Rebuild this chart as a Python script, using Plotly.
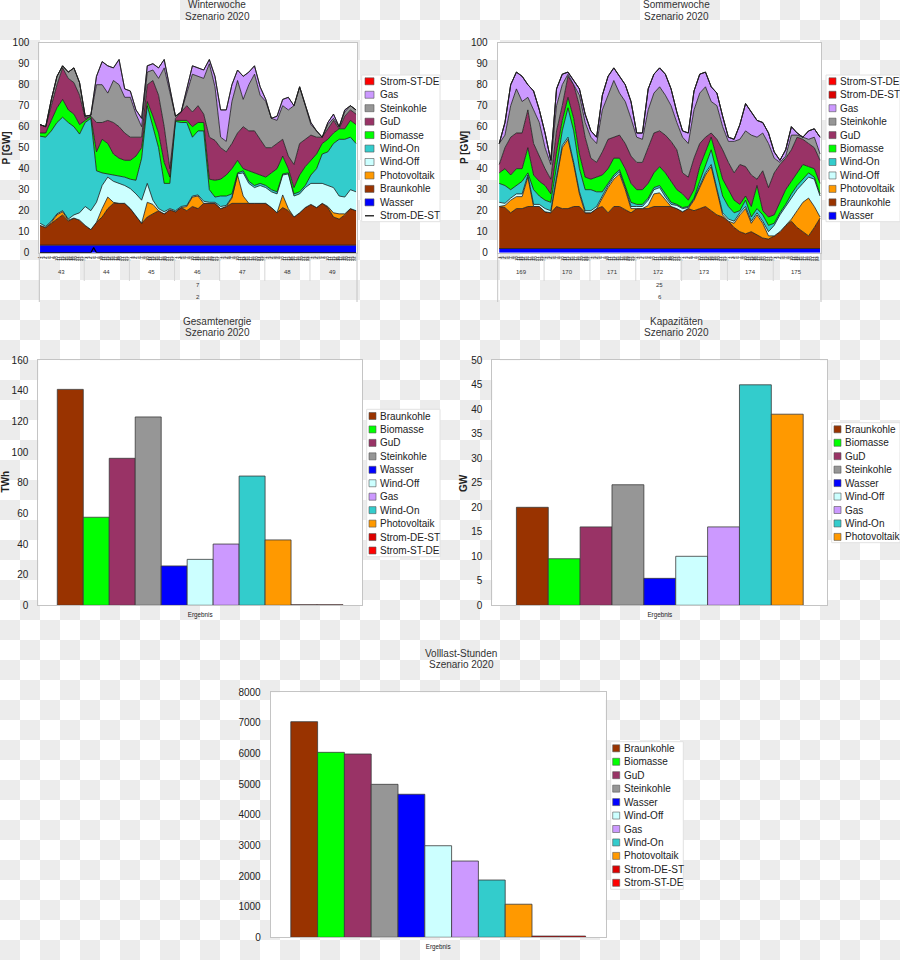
import base64, struct, zlib
import numpy as np
import plotly.graph_objects as go

W, H = 900, 960
FONT = "Liberation Sans, Arial, Helvetica, sans-serif"
TXT = "#222222"

# ---------------- data ----------------
hours = list(range(0, 169, 3))                # sampled hour of the week
hour_ticks = list(range(168))
hour_labels = [str(h % 24 + 1) for h in hour_ticks]

winter_days = ["43", "44", "45", "46", "47", "48", "49"]
winter_levels = ["7", "2"]
summer_days = ["169", "170", "171", "172", "173", "174", "175"]
summer_levels = ["25", "6"]

# Winter week: upper edge of each stacked layer (GW)
w_wasser = [3.6, 3.6, 3.6, 3.6, 3.6, 3.6, 3.6, 3.6, 3.6, 3.6, 3.6, 3.6, 3.6, 3.6, 3.6, 3.6, 3.6, 3.6, 3.6, 3.6,
            3.6, 3.6, 3.6, 3.6, 3.6, 3.6, 3.6, 3.6, 3.6, 3.6, 3.6, 3.6, 3.6, 3.6, 3.6, 3.6, 3.6, 3.6, 3.6, 3.6,
            3.6, 3.6, 3.6, 3.6, 3.6, 3.6, 3.6, 3.6, 3.6, 3.6, 3.6, 3.6, 3.6, 3.6, 3.6, 3.6, 3.6]
w_braunkohle = [13, 12, 14, 16, 18, 15, 16.5, 15.5, 13, 11, 14.5, 17, 21, 23.5, 23.5, 23.5, 21, 17.5, 14, 17,
                18.5, 20, 18.5, 20.5, 19.5, 21.5, 20, 22, 21, 23.5, 23.5, 23.5, 21, 22, 23.5, 23.5, 23.5, 23.5, 23.5, 23.5,
                23.5, 21.5, 19, 21.5, 20, 17, 19, 21.5, 23, 21.5, 23.5, 21.5, 17, 16, 18, 21, 20]
w_photovoltaik = [13, 12, 14.5, 18, 19.5, 15.5, 16.5, 15.5, 13, 11, 14.5, 21, 26.5, 24, 23.5, 23.5, 21, 17.5, 14, 24,
                  23, 20, 18.5, 20.5, 19.5, 21.5, 22, 26.5, 27, 23.5, 23.5, 23.5, 21, 22, 26, 37, 27, 23.5, 23.5, 23.5,
                  23.5, 21.5, 19, 27.5, 21, 17, 19, 21.5, 23, 21.5, 23.5, 22, 19, 18.5, 18.5, 21, 20]
w_wind_off = [14, 12.5, 15, 18.5, 20, 16, 18, 19, 22, 20, 24, 32, 36, 34, 33, 32, 30.5, 28, 25, 33,
              25, 21, 19.5, 21, 20, 22, 22.5, 27, 27.5, 24.5, 24, 24, 22, 22.5, 26.5, 37.5, 38, 33, 31, 32,
              31, 29, 28, 37, 37.5, 27, 28, 31, 33, 33, 33, 32, 31, 27, 26.5, 30, 29]
w_wind_on = [55.5, 55, 58, 62, 64.5, 62, 60, 56.5, 62, 64, 39, 38, 37.5, 37, 36.5, 36, 35, 34.5, 45, 70,
             60, 50, 33, 33, 62.5, 62, 62, 55, 58, 58, 30, 26.5, 27, 27, 28, 38, 39, 34, 32, 33,
             32, 30, 29, 37.5, 38, 28, 29, 32, 37, 40, 47, 48, 52, 54, 54, 55, 52]
w_biomasse = [57, 57, 63, 69, 73, 68, 66, 61, 63, 65, 48, 54, 52, 47, 45, 44, 44, 46, 50, 72,
              65, 57, 43, 36, 63, 63, 63, 60, 62, 62, 35, 34.5, 35, 37, 40, 44, 40, 39, 38, 37,
              36, 38, 40, 46, 40, 31, 37, 41, 44, 47, 52, 54, 57, 59, 59, 63, 61]
w_gud = [61, 60, 70, 80, 88, 83, 81, 75, 64, 65, 62, 62, 63, 62, 60, 57, 55, 55, 55, 80,
         82, 75, 60, 40, 64, 67, 70, 67, 70, 66, 55, 53.5, 50, 48, 52, 57, 60, 58, 58, 54,
         50, 50, 52, 54, 46, 42, 52, 54, 56, 55, 55, 59, 63, 59, 65, 68, 66]
w_steinkohle = [61, 60, 73, 84, 89, 86, 88, 81, 65, 65.5, 80, 80, 76, 82, 80, 74, 74, 66, 60, 86,
                87, 83, 88, 76, 65, 67, 76, 85, 84, 83, 90, 79, 55, 53, 72, 82, 73, 80, 85, 75,
                72, 64, 63, 70, 68, 70, 79, 70, 61, 58, 55, 61, 64, 60, 67, 70, 68]
w_gas = [61, 60, 73, 84, 89, 86, 88, 81, 65, 65.5, 84, 91, 89, 88, 92, 78, 77, 68, 64, 89,
         90, 88, 92, 78, 65, 67, 78, 89, 88, 87, 92, 84, 68, 68, 80, 87, 84, 86, 89, 79,
         73, 64, 65, 73, 74, 70, 79, 71, 62, 58, 55, 62, 66, 60, 68, 70, 68]
w_strom_st_de = [0] * 57
w_strom_de_st_hours = [0, 27, 28.5, 30, 168]
w_strom_de_st = [0, 0, 2.4, 0, 0]

# Summer week: upper edge of each stacked layer (GW)
s_wasser = [2.0, 2.0, 2.0, 2.0, 2.0, 2.0, 2.0, 2.0, 2.0, 2.0, 2.0, 2.0, 2.0, 2.0, 2.0, 2.0, 2.0, 2.0, 2.0, 2.0,
            2.0, 2.0, 2.0, 2.0, 2.0, 2.0, 2.0, 2.0, 2.0, 2.0, 2.0, 2.0, 2.0, 2.0, 2.0, 2.0, 2.0, 2.0, 2.0, 2.0,
            2.0, 2.0, 2.0, 2.0, 2.0, 2.0, 2.0, 2.0, 2.0, 2.0, 2.0, 2.0, 2.0, 2.0, 2.0, 2.0, 2.0]
s_braunkohle = [22, 21.5, 19, 21, 21, 22, 22, 22, 19.5, 19, 22, 21, 21, 22, 22, 19, 19, 21, 22, 19,
                22, 22, 20.5, 19, 21, 21, 21, 22, 22, 22, 22, 21, 19.5, 21, 20, 21, 22, 20, 18, 17,
                15, 12, 10, 9, 10, 8.5, 7, 6.5, 8, 10, 13, 15, 12, 10, 8, 12, 16.5]
s_photovoltaik = [22, 22.5, 25, 26.7, 26.7, 36, 22, 22, 19.5, 19, 35, 50, 54, 42, 28, 19, 19, 21, 26, 31,
                  35, 37.5, 30, 21, 21, 21, 22.5, 28, 28.5, 25, 22, 21, 19.5, 21, 25, 31, 37, 41, 30, 18,
                  15, 14, 18, 21, 14, 18, 14, 8, 8, 10, 13, 16, 20, 24, 26, 22, 17]
s_wind_off = [24, 23.5, 26, 28, 28, 37, 23, 23, 21, 20, 36, 51, 55, 43, 29, 20, 20, 22, 27, 32,
              36, 38.5, 31, 22, 22, 22, 25, 30, 31, 26.5, 23, 22.5, 21, 21.5, 25.5, 32, 38, 42, 31, 19,
              16, 15, 19, 22, 15, 19, 15, 10, 13, 18, 22, 26, 30, 33, 36, 35, 27]
s_wind_on = [33, 32, 30, 32, 34, 38, 30, 27, 25, 24, 42, 58, 69, 58, 40, 30, 30, 29, 29, 33,
             37, 39.5, 32, 24, 23, 23, 26, 31, 32, 28, 24, 23, 21.5, 22, 26, 34, 42, 49, 38, 27,
             22, 19, 20, 25, 17, 21, 18, 13, 14, 19, 23, 28, 32, 35, 38, 36, 28]
s_biomasse = [38, 40, 37, 40, 40, 50, 37, 34, 32, 28, 48, 63, 74, 64, 47, 36, 35, 36, 37, 40,
              45, 45, 40, 33, 30, 30, 33, 38, 41, 38, 34, 30, 28, 25, 30, 41, 48, 55, 45, 35,
              30, 25, 23, 27, 22, 32, 20, 17, 18, 24, 30, 34, 38, 42, 41, 40, 33]
s_gud = [42, 50, 55, 57, 57, 68, 52, 46, 40, 35, 58, 70, 84, 80, 70, 55, 45, 43, 48, 54,
         55, 56, 52, 46, 43, 43, 50, 57, 58, 56, 53, 49, 38, 36, 45, 52, 55, 57, 54, 49,
         43, 38, 42, 41, 37, 35, 39, 31, 38, 42, 45, 49, 55, 54, 52, 50, 44]
s_steinkohle = [52, 56, 70, 78, 72, 74, 68, 62, 50, 42, 70, 80, 85, 80, 75, 62, 55, 52, 68, 75,
                82, 76, 72, 64, 55, 54, 68, 76, 79, 75, 70, 62, 55, 52, 68, 76, 79, 72, 70, 60,
                53, 53, 54, 58, 56, 55, 57, 52, 45, 43, 46, 56, 56, 55, 54, 55, 47]
s_gas = [52, 62, 80, 86, 84, 80, 77, 68, 57, 44, 78, 85, 86, 82, 78, 66, 58, 55, 75, 84,
         88, 84, 80, 72, 57, 57, 78, 85, 88, 85, 78, 67, 58, 57, 77, 85, 86, 79, 76, 65,
         55, 54, 61, 71, 67, 63, 62, 57, 48, 44, 49, 60, 57, 55, 58, 59, 55]
s_strom_de_st = [0] * 57
s_strom_st_de = [0] * 57

# Bar charts
bar_category = ["Ergebnis"]
bar_names = ["Braunkohle", "Biomasse", "GuD", "Steinkohle", "Wasser", "Wind-Off", "Gas",
             "Wind-On", "Photovoltaik", "Strom-DE-ST", "Strom-ST-DE"]
energy_twh = [141, 57.5, 96, 123, 25.7, 30, 40, 84.4, 42.7, 0.4, 0.4]
kap_names = ["Braunkohle", "Biomasse", "GuD", "Steinkohle", "Wasser", "Wind-Off", "Gas",
             "Wind-On", "Photovoltaik"]
kap_gw = [20, 9.5, 16, 24.6, 5.5, 10, 16, 45, 39]
volllast_h = [7040, 6040, 5985, 4995, 4670, 2990, 2490, 1870, 1080, 40, 40]

COL = {"Braunkohle": "#993300", "Biomasse": "#00ff00", "GuD": "#993366", "Steinkohle": "#969696",
       "Wasser": "#0000ff", "Wind-Off": "#ccffff", "Gas": "#cc99ff", "Wind-On": "#33cccc",
       "Photovoltaik": "#ff9900", "Strom-DE-ST": "#dd0000", "Strom-ST-DE": "#ff0000"}

stack_names = ["Wasser", "Braunkohle", "Photovoltaik", "Wind-Off", "Wind-On", "Biomasse", "GuD",
               "Steinkohle", "Gas"]

# ---------------- helpers ----------------
def px(x):
    return x / W


def py(y):
    return 1 - y / H


def dom_x(a, b):
    return [px(a), px(b)]


def dom_y(top, bottom):
    return [py(bottom), py(top)]


def checker_png(w, h, cell, c1, c2):
    row_a, row_b = bytearray(), bytearray()
    for x in range(w):
        even = (x // cell) % 2 == 0
        row_a += bytes(c1 if even else c2)
        row_b += bytes(c2 if even else c1)
    raw = bytearray()
    for y in range(h):
        raw += b"\x00" + (row_a if (y // cell) % 2 == 0 else row_b)

    def chunk(t, d):
        return struct.pack(">I", len(d)) + t + d + struct.pack(">I", zlib.crc32(t + d) & 0xffffffff)

    png = (b"\x89PNG\r\n\x1a\n" + chunk(b"IHDR", struct.pack(">IIBBBBB", w, h, 8, 2, 0, 0, 0))
           + chunk(b"IDAT", zlib.compress(bytes(raw), 9)) + chunk(b"IEND", b""))
    return "data:image/png;base64," + base64.b64encode(png).decode()


fig = go.Figure()
shapes, annotations = [], []


def add_stack(cums, names, xa, ya, group):
    prev = np.zeros(len(hours))
    for name, cum in zip(names, cums):
        cum = np.array(cum, dtype=float)
        val = np.clip(cum - prev, 0, None)
        prev = np.maximum(cum, prev)
        fig.add_trace(go.Scatter(x=hours, y=val, stackgroup=group, mode="lines",
                                 line=dict(color="#1a1a1a", width=0.8), fillcolor=COL[name],
                                 name=name, xaxis=xa, yaxis=ya, showlegend=False, hoverinfo="skip"))


add_stack([w_wasser, w_braunkohle, w_photovoltaik, w_wind_off, w_wind_on, w_biomasse, w_gud,
           w_steinkohle, w_gas], stack_names, "x", "y", "winter")
fig.add_trace(go.Scatter(x=hours, y=w_strom_st_de, stackgroup="winter", mode="lines",
                         line=dict(color="#1a1a1a", width=0.8), fillcolor=COL["Strom-ST-DE"],
                         name="Strom-ST-DE", xaxis="x", yaxis="y", showlegend=False, hoverinfo="skip"))
fig.add_trace(go.Scatter(x=w_strom_de_st_hours, y=w_strom_de_st, mode="lines",
                         line=dict(color="#000000", width=1.2), name="Strom-DE-ST",
                         xaxis="x", yaxis="y", showlegend=False, hoverinfo="skip"))

add_stack([s_wasser, s_braunkohle, s_photovoltaik, s_wind_off, s_wind_on, s_biomasse, s_gud,
           s_steinkohle, s_gas], stack_names, "x2", "y2", "summer")
for nm, vals in [("Strom-DE-ST", s_strom_de_st), ("Strom-ST-DE", s_strom_st_de)]:
    fig.add_trace(go.Scatter(x=hours, y=vals, stackgroup="summer", mode="lines",
                             line=dict(color="#1a1a1a", width=0.8), fillcolor=COL[nm],
                             name=nm, xaxis="x2", yaxis="y2", showlegend=False, hoverinfo="skip"))


def add_bars(names, vals, xa, ya):
    for nm, v in zip(names, vals):
        fig.add_trace(go.Bar(x=bar_category, y=[v], name=nm, marker=dict(color=COL[nm],
                             line=dict(color="#3a3a3a", width=0.8)), xaxis=xa, yaxis=ya,
                             showlegend=False, hoverinfo="skip"))


add_bars(bar_names, energy_twh, "x3", "y3")
add_bars(kap_names, kap_gw, "x4", "y4")
add_bars(bar_names, volllast_h, "x5", "y5")

# ---------------- axes ----------------
FRAME = "#c4c4c4"
yax_common = dict(showgrid=False, zeroline=False, showline=True, mirror=True, linecolor=FRAME,
                  linewidth=1, ticks="", tickfont=dict(size=10, color=TXT, family=FONT),
                  ticklabelstandoff=7, automargin=False, fixedrange=True)
week_x = dict(showgrid=False, zeroline=False, showline=True, mirror=True, linecolor=FRAME,
              linewidth=1, ticks="", tickmode="array", tickvals=hour_ticks, ticktext=hour_labels,
              tickangle=-90, tickfont=dict(size=4.2, color="#222222", family=FONT),
              ticklabelstandoff=1, automargin=False, fixedrange=True)
bar_x = dict(type="category", showgrid=False, zeroline=False, showline=True, mirror=True,
             linecolor=FRAME, linewidth=1, ticks="", tickfont=dict(size=6.3, color=TXT, family=FONT),
             ticklabelstandoff=3, automargin=False, fixedrange=True)

win_x, win_y = (39.3, 357), (42.7, 252.7)
sum_x, sum_y = (497.7, 821), (42.7, 252.7)
ges_x, ges_y = (38.3, 362), (360.3, 605.3)
kap_x, kap_y = (492.3, 827.3), (360.3, 605.3)
vol_x, vol_y = (270.7, 605.7), (692.3, 937.3)

fig.update_layout(
    xaxis=dict(week_x, domain=dom_x(*win_x), range=[-0.4, 168.5], anchor="y"),
    yaxis=dict(yax_common, domain=dom_y(*win_y), range=[0, 100], dtick=10, tick0=0, anchor="x"),
    xaxis2=dict(week_x, domain=dom_x(*sum_x), range=[-0.8, 168.5], anchor="y2"),
    yaxis2=dict(yax_common, domain=dom_y(*sum_y), range=[0, 100], dtick=10, tick0=0, anchor="x2"),
    xaxis3=dict(bar_x, domain=dom_x(*ges_x), range=[-0.4985, 0.4985], anchor="y3"),
    yaxis3=dict(yax_common, domain=dom_y(*ges_y), range=[0, 160], dtick=20, tick0=0, anchor="x3"),
    xaxis4=dict(bar_x, domain=dom_x(*kap_x), range=[-0.514, 0.514], anchor="y4"),
    yaxis4=dict(yax_common, domain=dom_y(*kap_y), range=[0, 50], dtick=5, tick0=0, anchor="x4"),
    xaxis5=dict(bar_x, domain=dom_x(*vol_x), range=[-0.5, 0.5], anchor="y5"),
    yaxis5=dict(yax_common, domain=dom_y(*vol_y), range=[0, 8000], dtick=1000, tick0=0, anchor="x5"),
)

# white plot areas above the checkerboard
for xs, ys in [(win_x, win_y), (sum_x, sum_y), (ges_x, ges_y), (kap_x, kap_y), (vol_x, vol_y)]:
    shapes.append(dict(type="rect", xref="paper", yref="paper", x0=px(xs[0]), x1=px(xs[1]),
                       y0=py(ys[1]), y1=py(ys[0]), fillcolor="white", line=dict(width=0), layer="below"))


def text(x, y, s, size=10, xanchor="center", color=TXT, bold=False, angle=0, xref="paper"):
    annotations.append(dict(x=x, y=py(y), xref=xref, yref="paper", text=("<b>%s</b>" % s) if bold else s,
                            showarrow=False, xanchor=xanchor, yanchor="middle", textangle=angle,
                            font=dict(size=size, color=color, family=FONT)))


# titles
for cx, y1, line1 in [(217, 4.5, "Winterwoche"), (676, 4.5, "Sommerwoche"), (217, 321, "Gesamtenergie"),
                      (676, 321, "Kapazitäten"), (461, 653, "Volllast-Stunden")]:
    text(px(cx), y1, line1, color="#333333")
    text(px(cx), y1 + 11.8, "Szenario 2020", color="#333333")

# axis titles
text(px(5.5), 148, "P [GW]", bold=True, angle=-90)
text(px(464), 148, "P [GW]", bold=True, angle=-90)
text(px(4.5), 482, "TWh", bold=True, angle=-90)
text(px(463), 483, "GW", bold=True, angle=-90)

# multi-level category labels of the week charts
for xa, days, levels, xs in [("x", winter_days, winter_levels, win_x), ("x2", summer_days, summer_levels, sum_x)]:
    for d, lab in enumerate(days):
        text(24 * d + 11.5, 272, lab, size=6, color="#333333", xref=xa)
    text(84, 285, levels[0], size=6, color="#333333", xref=xa)
    text(84, 297.5, levels[1], size=6, color="#333333", xref=xa)
    for d in range(1, 7):
        shapes.append(dict(type="line", xref=xa, yref="paper", x0=24 * d - 0.5, x1=24 * d - 0.5,
                           y0=py(281), y1=py(257), line=dict(color="#d6d6d6", width=1)))
    for xv in xs:
        shapes.append(dict(type="line", xref="paper", yref="paper", x0=px(xv), x1=px(xv),
                           y0=py(302), y1=py(252.7), line=dict(color=FRAME, width=1)))


# legends
def legend(box, first_y, names, sq_x0, sq_w, text_x, line_items=()):
    x0, y0, x1, y1 = box
    shapes.append(dict(type="rect", xref="paper", yref="paper", x0=px(x0), x1=px(x1), y0=py(y1),
                       y1=py(y0), fillcolor="white", line=dict(color="#e2e2e2", width=1), layer="below"))
    for i, nm in enumerate(names):
        yc = first_y + i * 13.45
        if nm in line_items:
            shapes.append(dict(type="line", xref="paper", yref="paper", x0=px(sq_x0), x1=px(sq_x0 + sq_w),
                               y0=py(yc), y1=py(yc), line=dict(color="#000000", width=1.2)))
        else:
            shapes.append(dict(type="rect", xref="paper", yref="paper", x0=px(sq_x0), x1=px(sq_x0 + sq_w),
                               y0=py(yc + 3.5), y1=py(yc - 3.5), fillcolor=COL[nm],
                               line=dict(color="#555555", width=0.6)))
        text(px(text_x), yc, nm, xanchor="left")


winter_legend = ["Strom-ST-DE", "Gas", "Steinkohle", "GuD", "Biomasse", "Wind-On", "Wind-Off",
                 "Photovoltaik", "Braunkohle", "Wasser", "Strom-DE-ST"]
summer_legend = ["Strom-ST-DE", "Strom-DE-ST", "Gas", "Steinkohle", "GuD", "Biomasse", "Wind-On",
                 "Wind-Off", "Photovoltaik", "Braunkohle", "Wasser"]
legend((361.7, 75, 440, 221.7), 81.3, winter_legend, 365, 9, 378.3, line_items=("Strom-DE-ST",))
legend((826, 75, 900, 221.7), 81.3, summer_legend, 829, 7, 838)
legend((366.7, 409.3, 440, 556.7), 416, bar_names, 369, 7, 377.7)
legend((831.7, 422.7, 900, 542.7), 429.3, kap_names, 834, 7, 843)
legend((610.7, 741.7, 683.3, 889.3), 748.3, bar_names, 612.7, 7, 621.7)

fig.update_layout(
    width=W, height=H, margin=dict(l=0, r=0, t=0, b=0), template="none",
    paper_bgcolor="white", plot_bgcolor="rgba(0,0,0,0)",
    font=dict(family=FONT, size=10, color=TXT),
    barmode="group", bargap=0.12, bargroupgap=0, showlegend=False,
    shapes=shapes, annotations=annotations,
    images=[dict(source=checker_png(W, H, 20, (255, 255, 255), (236, 236, 236)), xref="paper",
                 yref="paper", x=0, y=1, sizex=1, sizey=1, xanchor="left", yanchor="top",
                 sizing="stretch", layer="below")],
)

fig.write_html("out.html", config={"displayModeBar": False},
               post_script="document.body.style.margin='0px';")
